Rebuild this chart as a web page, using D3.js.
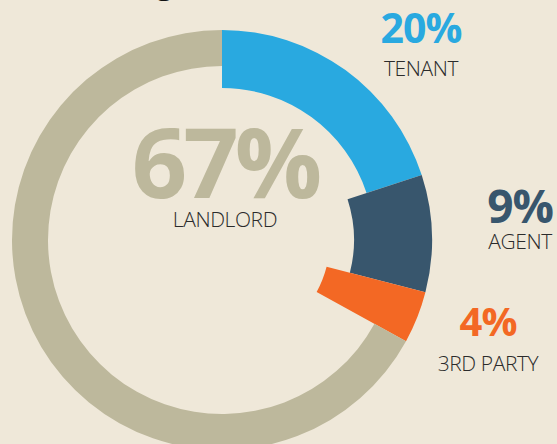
<!DOCTYPE html>
<html>
<head>
<meta charset="utf-8">
<script src="https://cdn.jsdelivr.net/npm/d3@7"></script>
<style>
  html, body { margin: 0; padding: 0; background: #EFE8D9; }
  #chart { width: 557px; height: 444px; overflow: hidden; }
</style>
</head>
<body>
<div id="chart"></div>
<script>
// data
const categories = ["TENANT", "AGENT", "3RD PARTY", "LANDLORD"];
const shares = [20, 9, 4, 67];
const shareLabels = ["20%", "9%", "4%", "67%"];

const colors = ["#29A9E0", "#38566D", "#F36824", "#BDB89C"];

const width = 557, height = 444;
const cx = 222, cy = 240;
const outerR = 210;

const svg = d3.select("#chart")
    .append("svg")
    .attr("width", width)
    .attr("height", height);

svg.append("rect")
    .attr("width", width)
    .attr("height", height)
    .attr("fill", "#EFE8D9");

// title is cut off above the picture, only a descender shows
svg.append("text")
    .attr("x", 156)
    .attr("y", -6)
    .text("g")
    .style("font-family", "'Open Sans', sans-serif")
    .style("font-weight", "700")
    .style("font-size", "30px")
    .style("fill", "#111");

const color = d3.scaleOrdinal().domain(categories).range(colors);
// each slice gets its own inner radius
const innerR = d3.scaleOrdinal().domain(categories).range([152, 132, 108, 174]);

const pie = d3.pie().sort(null).value(d => d.value);
const arcs = pie(categories.map((c, i) => ({ name: c, value: shares[i] })));

const arc = d3.arc()
    .innerRadius(d => innerR(d.data.name))
    .outerRadius(outerR);

const g = svg.append("g")
    .attr("transform", `translate(${cx},${cy})`);

g.selectAll("path")
    .data(arcs)
    .enter()
    .append("path")
    .attr("d", arc)
    .attr("fill", d => color(d.data.name));

// label layout: [x, value baseline, name baseline, value font size, spacing]
const labelLayout = {
    "TENANT": [421, 43, 76, 41, -1],
    "AGENT": [520, 223, 249, 46, -1],
    "3RD PARTY": [488, 336, 371, 40, -1],
    "LANDLORD": [225, 198, 227, 97, -4]
};

categories.forEach((c, i) => {
    const [x, yv, yn, fs, ls] = labelLayout[c];
    svg.append("text")
        .attr("x", x)
        .attr("y", yv)
        .attr("text-anchor", "middle")
        .text(shareLabels[i])
        .style("font-family", "'Open Sans', sans-serif")
        .style("font-weight", "700")
        .style("font-size", fs + "px")
        .style("letter-spacing", ls + "px")
        .style("fill", color(c));
    svg.append("text")
        .attr("x", x)
        .attr("y", yn)
        .attr("text-anchor", "middle")
        .text(c)
        .style("font-family", "'Open Sans', sans-serif")
        .style("font-weight", "300")
        .style("font-size", "21px")
        .style("letter-spacing", "-0.4px")
        .style("fill", "#2B2B2B");
});
</script>
</body>
</html>
